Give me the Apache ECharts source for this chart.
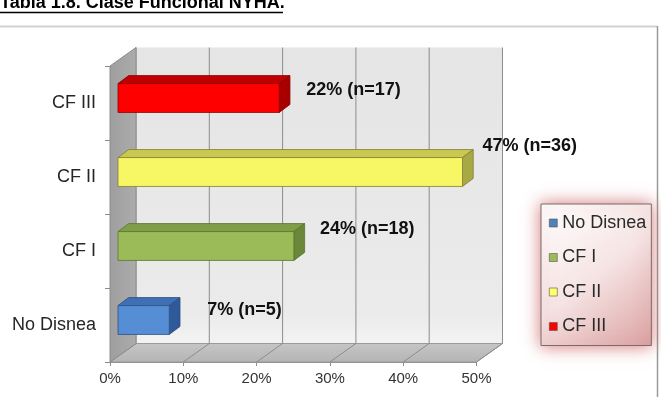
<!DOCTYPE html>
<html>
<head>
<meta charset="utf-8">
<script src="https://cdn.jsdelivr.net/npm/echarts@6/dist/echarts.min.js"></script>
<style>
html,body{margin:0;padding:0;background:#fff;}
#chart{width:661px;height:397px;}
</style>
</head>
<body>
<div id="chart"></div>
<script>
// ---- data ----
const CATEGORIES = ['No Disnea', 'CF I', 'CF II', 'CF III'];
const PERCENT = [0.07, 0.24, 0.47, 0.22];
const COUNTS = [5, 18, 36, 17];
const X_TICKS = [0, 0.1, 0.2, 0.3, 0.4, 0.5];
const TITLE = 'Tabla 1.8. Clase Funcional NYHA.';

// ---- styles ----
const FONT = '"Liberation Sans", Arial, sans-serif';
const FACE = {
  front: ['#558ed5', '#9bbb59', '#f7f765', '#ff0000'],
  top:   ['#3f6fb5', '#809d47', '#c9c952', '#c00000'],
  side:  ['#30599a', '#6b873a', '#a9a944', '#a80000'],
  edge:  ['#2c4f80', '#5b7330', '#7f7f33', '#8a0000']
};
const LEGEND_COLORS = ['#4f81bd', '#9bbb59', '#ffff66', '#ff0000'];
const LABEL_NUDGE = [[10, 4], [-2, -3], [-8, -12], [-1, 6]];
const DX = 26, DY = -18.5;     // wall depth
const BOX = 8, BOY = -5;       // bar front offset
const BDX = 10.7, BDY = -8;    // bar depth

const chart = echarts.init(document.getElementById('chart'), null, {renderer: 'canvas'});

function renderWalls(params, api) {
  const cs = params.coordSys;
  const x0 = cs.x, y0 = cs.y, x1 = cs.x + cs.width, y1 = cs.y + cs.height;
  const ch = [];
  ch.push({type: 'rect', shape: {x: x0 + DX, y: y0 + DY, width: cs.width, height: cs.height},
    style: {fill: new echarts.graphic.LinearGradient(0, 0, 0, 1, [
      {offset: 0, color: '#e5e5e5'}, {offset: 0.9, color: '#ebebeb'}, {offset: 1, color: '#f3f3f3'}])}});
  ch.push({type: 'polygon', shape: {points: [[x0, y1], [x1, y1], [x1 + DX, y1 + DY], [x0 + DX, y1 + DY]]},
    style: {fill: new echarts.graphic.LinearGradient(0, 1, 0, 0, [
      {offset: 0, color: '#b4b4b4'}, {offset: 1, color: '#c6c6c6'}]), stroke: '#9a9a9a', lineWidth: 1}});
  X_TICKS.forEach(function (t) {
    const cx = api.coord([t, 0])[0];
    ch.push({type: 'line', shape: {x1: cx + DX, y1: y0 + DY, x2: cx + DX, y2: y1 + DY},
      style: {stroke: '#8c8c8c', lineWidth: 1}});
    ch.push({type: 'line', shape: {x1: cx, y1: y1, x2: cx + DX, y2: y1 + DY},
      style: {stroke: '#8c8c8c', lineWidth: 1}});
  });
  ch.push({type: 'polygon', shape: {points: [[x0, y0], [x0 + DX, y0 + DY], [x0 + DX, y1 + DY], [x0, y1]]},
    style: {fill: new echarts.graphic.LinearGradient(0, 0, 1, 0, [
      {offset: 0, color: '#9e9e9e'}, {offset: 1, color: '#acacac'}]), stroke: '#8c8c8c', lineWidth: 1}});
  return {type: 'group', children: ch};
}

function renderBar(params, api) {
  const v = api.value(0), i = api.value(1);
  const p0 = api.coord([0, i]), p1 = api.coord([v, i]);
  const band = api.size([0, 1])[1];
  const h = band * 0.39;
  const fx0 = p0[0] + BOX, fx1 = p1[0] + BOX, yc = p0[1] + BOY;
  const yt = yc - h / 2, yb = yc + h / 2;
  const k = params.seriesIndex - 1;
  const edge = FACE.edge[k];
  const ch = [
    {type: 'polygon', shape: {points: [[fx0, yt], [fx1, yt], [fx1 + BDX, yt + BDY], [fx0 + BDX, yt + BDY]]},
      style: {fill: FACE.top[k], stroke: edge, lineWidth: 0.8}},
    {type: 'polygon', shape: {points: [[fx1, yt], [fx1 + BDX, yt + BDY], [fx1 + BDX, yb + BDY], [fx1, yb]]},
      style: {fill: FACE.side[k], stroke: edge, lineWidth: 0.8}},
    {type: 'rect', shape: {x: fx0, y: yt, width: fx1 - fx0, height: h},
      style: {fill: FACE.front[k], stroke: edge, lineWidth: 0.8}},
    {type: 'text', x: fx1 + 28 + LABEL_NUDGE[k][0], y: yc - 14 + LABEL_NUDGE[k][1],
      style: {text: Math.round(v * 100) + '% (n=' + COUNTS[k] + ')', fill: '#111',
        font: 'bold 18px ' + FONT, align: 'left', verticalAlign: 'middle'}}
  ];
  return {type: 'group', children: ch};
}

const series = [{
  type: 'custom', name: '_walls', renderItem: renderWalls, data: [[0, 0]],
  encode: {x: 0, y: 1}, z: 1, silent: true, clip: false
}];
CATEGORIES.forEach(function (c, i) {
  series.push({
    type: 'custom', name: c, renderItem: renderBar, data: [[PERCENT[i], i]],
    encode: {x: 0, y: 1}, z: 2, clip: false,
    itemStyle: {color: LEGEND_COLORS[i]}
  });
});

chart.setOption({
  animation: false,
  backgroundColor: '#fff',
  grid: {left: 110, top: 66, right: 184.5, bottom: 35, containLabel: false},
  xAxis: {
    type: 'value', min: 0, max: 0.5, interval: 0.1,
    axisLabel: {formatter: function (v) { return Math.round(v * 100) + '%'; },
      fontSize: 15, color: '#333', fontFamily: FONT, margin: 9},
    axisLine: {show: true, lineStyle: {color: '#8c8c8c'}},
    axisTick: {show: true, length: 4, lineStyle: {color: '#8c8c8c'}},
    splitLine: {show: false}
  },
  yAxis: {
    type: 'category', data: CATEGORIES,
    axisLabel: {fontSize: 18, color: '#262626', fontFamily: FONT, margin: 14},
    axisLine: {show: true, lineStyle: {color: '#8c8c8c'}},
    axisTick: {show: true, length: 5, lineStyle: {color: '#8c8c8c'}},
    splitLine: {show: false}
  },
  legend: {
    orient: 'vertical', left: 541, top: 204,
    data: CATEGORIES.map(function (c, i) {
      return {name: c, icon: 'rect', itemStyle: {color: LEGEND_COLORS[i], borderColor: '#555', borderWidth: 0.6}};
    }),
    itemWidth: 8, itemHeight: 8, itemGap: 16.5,
    padding: [10, 5, 10, 8],
    textStyle: {fontSize: 18, color: '#2a2a2a', fontFamily: FONT, lineHeight: 18},
    backgroundColor: new echarts.graphic.LinearGradient(0, 0, 1, 1, [
      {offset: 0, color: '#ffffff'}, {offset: 0.5, color: '#f6e4e4'}, {offset: 1, color: '#dca3a3'}]),
    borderColor: '#7a6a6a', borderWidth: 1,
    shadowBlur: 16, shadowColor: 'rgba(200,80,80,0.75)',
    selectedMode: false
  },
  graphic: [
    {type: 'line', shape: {x1: 0, y1: 26.5, x2: 657, y2: 26.5}, style: {stroke: '#d2d2d2', lineWidth: 2}},
    {type: 'line', shape: {x1: 657.5, y1: 26, x2: 657.5, y2: 397}, style: {stroke: '#9a9a9a', lineWidth: 1.5}},
    {type: 'text', x: 0, y: 3, style: {text: TITLE, font: 'bold 18px ' + FONT, fill: '#000', verticalAlign: 'middle'}},
    {type: 'line', shape: {x1: 0, y1: 12.5, x2: 283, y2: 12.5}, style: {stroke: '#000', lineWidth: 1.5}}
  ],
  series: series
});
</script>
</body>
</html>
